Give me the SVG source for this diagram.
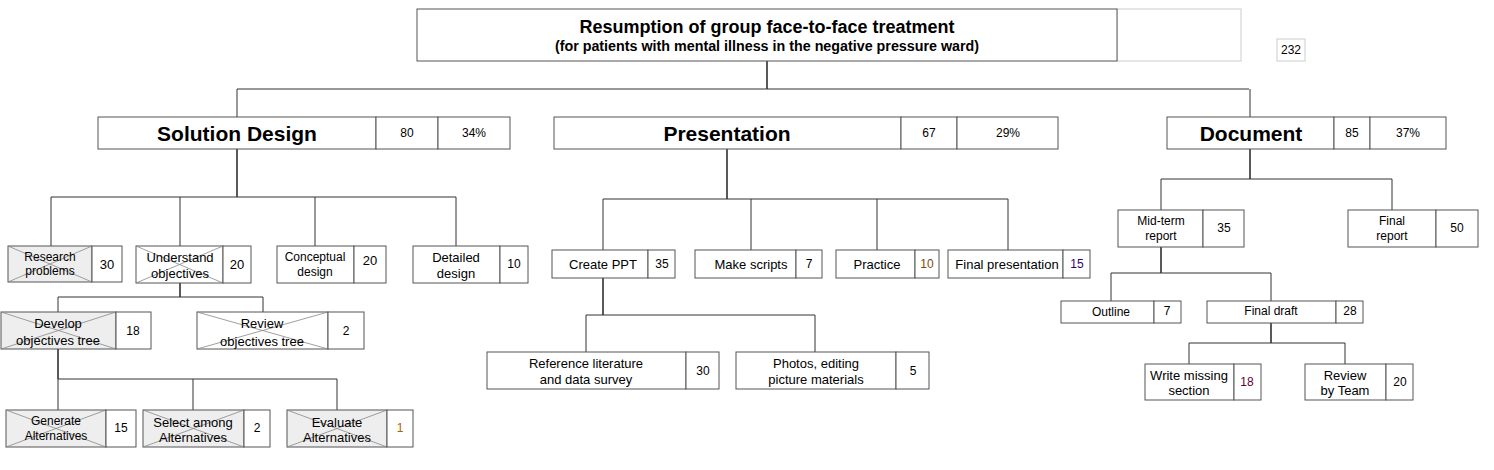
<svg xmlns="http://www.w3.org/2000/svg" width="1494" height="470" viewBox="0 0 1494 470">
<style>
text{font-family:"Liberation Sans",Arial,sans-serif;fill:#000;text-anchor:middle;dominant-baseline:central}
.b{fill:#fff;stroke:#555;stroke-width:1}
.g{fill:#eeeeee;stroke:#555;stroke-width:1}
.x{stroke:#888;stroke-width:0.8;fill:none}
.c{stroke:#333;stroke-width:1;fill:none}
.c2{stroke:#222;stroke-width:1.5;fill:none}
.t{font-size:13px}
.s{font-size:12px}
.h{font-size:21px;font-weight:bold}
</style>
<rect width="1494" height="470" fill="#fff"/>
<g id="connectors">
<path class="c2" d="M767 61V89"/>
<path class="c" d="M237 89H1249M237 89V117M1250 89V117"/>
<path class="c2" d="M237 149V197"/>
<path class="c" d="M51 197H456M51 197V246M180 197V246M315 197V246M456 197V246"/>
<path class="c2" d="M180 283V297"/>
<path class="c" d="M58 297H263M58 297V312M263 297V312"/>
<path class="c2" d="M58 349V379"/>
<path class="c" d="M58 379H337M58 379V410M193 379V410M337 379V410"/>
<path class="c2" d="M727 149V199"/>
<path class="c" d="M603 199H1008M603 199V250M751 199V250M877 199V250M1008 199V250"/>
<path class="c2" d="M603 278V315"/>
<path class="c" d="M586 315H815M586 315V352M815 315V352"/>
<path class="c2" d="M1250 149V179"/>
<path class="c" d="M1161 179H1392M1161 179V210M1392 179V210"/>
<path class="c2" d="M1161 247V273"/>
<path class="c" d="M1111 273H1271M1111 273V301M1271 273V301"/>
<path class="c2" d="M1271 323V343"/>
<path class="c" d="M1189 343H1345M1189 343V364M1345 343V364"/>
</g>
<g id="root">
<rect x="1117" y="9" width="124" height="52" fill="#fff" stroke="#ccc"/>
<rect class="b" x="417" y="9" width="700" height="52"/>
<text x="767" y="27" font-size="18" font-weight="bold">Resumption of group face-to-face treatment</text>
<text x="767" y="46" font-size="14.3" font-weight="bold">(for patients with mental illness in the negative pressure ward)</text>
</g>
<g id="total">
<rect x="1277" y="39" width="28" height="22" fill="#fff" stroke="#ccc"/>
<text class="s" x="1291" y="50">232</text>
</g>
<g id="solution-design">
<rect class="b" x="98" y="117" width="278" height="32"/>
<rect class="b" x="376" y="117" width="62" height="32"/>
<rect class="b" x="438" y="117" width="72" height="32"/>
<text class="h" x="237" y="133">Solution Design</text>
<text class="s" x="407" y="133">80</text>
<text class="s" x="474" y="133">34%</text>
</g>
<g id="presentation">
<rect class="b" x="554" y="117" width="347" height="32"/>
<rect class="b" x="901" y="117" width="56" height="32"/>
<rect class="b" x="957" y="117" width="101" height="32"/>
<text class="h" x="727" y="133">Presentation</text>
<text class="s" x="929" y="133">67</text>
<text class="s" x="1008" y="133">29%</text>
</g>
<g id="document">
<rect class="b" x="1167" y="117" width="167" height="32"/>
<rect class="b" x="1334" y="117" width="36" height="32"/>
<rect class="b" x="1370" y="117" width="76" height="32"/>
<text class="h" x="1251" y="133">Document</text>
<text class="s" x="1352" y="133">85</text>
<text class="s" x="1408" y="133">37%</text>
</g>
<g id="research-problems">
<rect class="g" x="8" y="246" width="84" height="36"/>
<path class="x" d="M8 246L92 282M92 246L8 282"/>
<rect class="b" x="92" y="246" width="30" height="36"/>
<text class="s" x="50" y="257">Research</text>
<text class="s" x="50" y="271">problems</text>
<text class="t" x="107" y="264">30</text>
</g>
<g id="understand-objectives">
<rect class="b" x="136" y="246" width="87" height="37"/>
<path class="x" d="M136 246L223 283M223 246L136 283"/>
<rect class="b" x="223" y="246" width="28" height="37"/>
<text class="t" x="180" y="257">Understand</text>
<text class="t" x="180" y="273">objectives</text>
<text class="t" x="237" y="264">20</text>
</g>
<g id="conceptual-design">
<rect class="b" x="277" y="246" width="77" height="37"/>
<rect class="b" x="354" y="246" width="32" height="37"/>
<text class="s" x="315" y="257">Conceptual</text>
<text class="s" x="315" y="272">design</text>
<text class="t" x="370" y="260">20</text>
</g>
<g id="detailed-design">
<rect class="b" x="413" y="246" width="87" height="37"/>
<rect class="b" x="500" y="246" width="28" height="37"/>
<text class="t" x="456" y="257">Detailed</text>
<text class="t" x="456" y="273">design</text>
<text class="s" x="514" y="264">10</text>
</g>
<g id="develop-objectives-tree">
<rect class="g" x="1" y="312" width="115" height="37"/>
<path class="x" d="M1 312L116 349M116 312L1 349"/>
<rect class="b" x="116" y="312" width="35" height="37"/>
<text class="t" x="58" y="323">Develop</text>
<text class="t" x="58" y="340">objectives tree</text>
<text class="s" x="133" y="331">18</text>
</g>
<g id="review-objectives-tree">
<rect class="b" x="197" y="312" width="131" height="37"/>
<path class="x" d="M197 312L328 349M328 312L197 349"/>
<rect class="b" x="328" y="312" width="36" height="37"/>
<text class="t" x="262" y="323">Review</text>
<text class="t" x="262" y="341">objectives tree</text>
<text class="s" x="346" y="331">2</text>
</g>
<g id="generate-alternatives">
<rect class="g" x="6" y="410" width="100" height="37"/>
<path class="x" d="M6 410L106 447M106 410L6 447"/>
<rect class="b" x="106" y="410" width="30" height="37"/>
<text class="s" x="56" y="421">Generate</text>
<text class="s" x="56" y="436">Alternatives</text>
<text class="s" x="121" y="428">15</text>
</g>
<g id="select-among-alternatives">
<rect class="g" x="143" y="410" width="101" height="37"/>
<path class="x" d="M143 410L244 447M244 410L143 447"/>
<rect class="b" x="244" y="410" width="26" height="37"/>
<text class="t" x="193" y="422">Select among</text>
<text class="t" x="193" y="437">Alternatives</text>
<text class="s" x="257" y="428">2</text>
</g>
<g id="evaluate-alternatives">
<rect class="g" x="287" y="410" width="100" height="37"/>
<path class="x" d="M287 410L387 447M387 410L287 447"/>
<rect class="b" x="387" y="410" width="26" height="37"/>
<text class="t" x="337" y="422">Evaluate</text>
<text class="t" x="337" y="437">Alternatives</text>
<text class="s" x="400" y="428" style="fill:#a86400">1</text>
</g>
<g id="create-ppt">
<rect class="b" x="552" y="250" width="96" height="28"/>
<rect class="b" x="648" y="250" width="27" height="28"/>
<text class="t" x="603" y="264">Create PPT</text>
<text class="s" x="662" y="264">35</text>
</g>
<g id="make-scripts">
<rect class="b" x="695" y="250" width="101" height="28"/>
<rect class="b" x="796" y="250" width="26" height="28"/>
<text class="t" x="751" y="264">Make scripts</text>
<text class="s" x="809" y="264">7</text>
</g>
<g id="practice">
<rect class="b" x="836" y="250" width="79" height="28"/>
<rect class="b" x="915" y="250" width="24" height="28"/>
<text class="t" x="877" y="264">Practice</text>
<text class="s" x="927" y="264" style="fill:#7a4b00">10</text>
</g>
<g id="final-presentation">
<rect class="b" x="948" y="250" width="115" height="28"/>
<rect class="b" x="1063" y="250" width="27" height="28"/>
<text class="t" x="1007" y="264">Final presentation</text>
<text class="s" x="1077" y="264" style="fill:#330066">15</text>
</g>
<g id="reference-literature">
<rect class="b" x="487" y="352" width="199" height="37"/>
<rect class="b" x="686" y="352" width="33" height="37"/>
<text class="t" x="586" y="363">Reference literature</text>
<text class="t" x="586" y="379">and data survey</text>
<text class="s" x="703" y="371">30</text>
</g>
<g id="photos-editing">
<rect class="b" x="736" y="352" width="160" height="37"/>
<rect class="b" x="896" y="352" width="33" height="37"/>
<text class="t" x="816" y="363">Photos, editing</text>
<text class="t" x="816" y="379">picture materials</text>
<text class="s" x="913" y="371">5</text>
</g>
<g id="mid-term-report">
<rect class="b" x="1118" y="210" width="85" height="37"/>
<rect class="b" x="1203" y="210" width="41" height="37"/>
<text class="s" x="1161" y="221">Mid-term</text>
<text class="s" x="1161" y="236">report</text>
<text class="s" x="1224" y="228">35</text>
</g>
<g id="final-report">
<rect class="b" x="1348" y="210" width="88" height="37"/>
<rect class="b" x="1436" y="210" width="42" height="37"/>
<text class="s" x="1392" y="221">Final</text>
<text class="s" x="1392" y="236">report</text>
<text class="s" x="1457" y="228">50</text>
</g>
<g id="outline">
<rect class="b" x="1061" y="301" width="93" height="22"/>
<rect class="b" x="1154" y="301" width="27" height="22"/>
<text class="s" x="1111" y="312">Outline</text>
<text class="s" x="1167" y="311">7</text>
</g>
<g id="final-draft">
<rect class="b" x="1207" y="301" width="129" height="22"/>
<rect class="b" x="1336" y="301" width="27" height="22"/>
<text class="s" x="1271" y="311">Final draft</text>
<text class="s" x="1350" y="311">28</text>
</g>
<g id="write-missing-section">
<rect class="b" x="1145" y="364" width="89" height="36"/>
<rect class="b" x="1234" y="364" width="27" height="36"/>
<text class="t" x="1189" y="375">Write missing</text>
<text class="t" x="1189" y="390">section</text>
<text class="s" x="1247" y="382" style="fill:#660033">18</text>
</g>
<g id="review-by-team">
<rect class="b" x="1305" y="364" width="81" height="36"/>
<rect class="b" x="1386" y="364" width="27" height="36"/>
<text class="t" x="1345" y="375">Review</text>
<text class="t" x="1345" y="390">by Team</text>
<text class="s" x="1400" y="382">20</text>
</g>
</svg>
